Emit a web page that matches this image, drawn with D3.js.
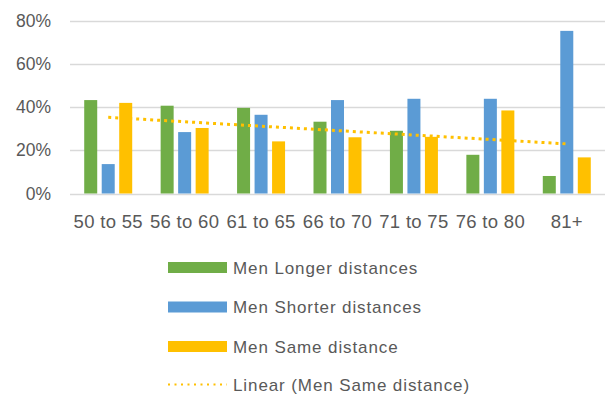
<!DOCTYPE html>
<html>
<head>
<meta charset="utf-8">
<script src="https://cdn.jsdelivr.net/npm/d3@7"></script>
<style>
  body { margin: 0; background: #fff; }
  text { font-family: "Liberation Sans", Arial, sans-serif; fill: #595959; }
</style>
</head>
<body>
<div id="canvas"></div>
<script>
"use strict";

// Canvas
let svgWidth = 605;
let svgHeight = 400;

// Data
let ageGroups = ["50 to 55", "56 to 60", "61 to 65", "66 to 70", "71 to 75", "76 to 80", "81+"];
let longerValues = [0.432, 0.406, 0.396, 0.332, 0.290, 0.179, 0.081];
let shorterValues = [0.136, 0.284, 0.364, 0.432, 0.438, 0.438, 0.752];
let sameValues = [0.419, 0.303, 0.241, 0.260, 0.262, 0.384, 0.167];
let seriesNames = ["Men Longer distances", "Men Shorter distances", "Men Same distance"];
let trendName = "Linear (Men Same distance)";
let yTicks = [0, 0.2, 0.4, 0.6, 0.8];

let seriesColors = ["#70AD47", "#5B9BD5", "#FFC000"];
let allSeries = [longerValues, shorterValues, sameValues];

let svg = d3.select("#canvas")
    .append("svg")
    .attr("width", svgWidth)
    .attr("height", svgHeight);

// Scales
let x0 = d3.scaleBand()
    .domain(ageGroups)
    .range([70, 605])
    .paddingInner(0.372)
    .paddingOuter(0.186);

let x1 = d3.scaleBand()
    .domain(d3.range(seriesNames.length))
    .range([0, x0.bandwidth()])
    .paddingInner(0.257);

let yScale = d3.scaleLinear()
    .domain([0, 0.8])
    .range([193.5, 20.5]);

// Gridlines
svg.selectAll("line.grid")
    .data(yTicks)
    .join("line")
    .attr("class", "grid")
    .attr("x1", 70)
    .attr("x2", 605)
    .attr("y1", d => Math.round(yScale(d)) + 0.5)
    .attr("y2", d => Math.round(yScale(d)) + 0.5)
    .attr("stroke", "#d9d9d9")
    .attr("stroke-width", 1.5);

// Y tick labels
svg.selectAll("text.ytick")
    .data(yTicks)
    .join("text")
    .attr("class", "ytick")
    .attr("x", 51)
    .attr("y", d => yScale(d) + 6)
    .attr("text-anchor", "end")
    .style("font-size", "17.5px")
    .text(d => d3.format(".0%")(d));

// Bars
let groups = svg.selectAll("g.group")
    .data(ageGroups)
    .join("g")
    .attr("class", "group")
    .attr("transform", d => `translate(${x0(d)},0)`);

groups.selectAll("rect")
    .data((d, i) => allSeries.map((s, k) => ({ k: k, v: s[i] })))
    .join("rect")
    .attr("x", d => x1(d.k))
    .attr("width", x1.bandwidth())
    .attr("y", d => yScale(d.v))
    .attr("height", d => yScale(0) - yScale(d.v))
    .attr("fill", d => seriesColors[d.k]);

// Linear trendline of "Men Same distance" (least squares, as Excel does)
let xs = d3.range(1, sameValues.length + 1);
let mx = d3.mean(xs);
let my = d3.mean(sameValues);
let slope = d3.sum(xs, (x, i) => (x - mx) * (sameValues[i] - my)) / d3.sum(xs, x => (x - mx) * (x - mx));
let intercept = my - slope * mx;
let trendPoints = [0, ageGroups.length - 1].map(i => ({
    x: x0(ageGroups[i]) + x0.bandwidth() / 2,
    y: yScale(intercept + slope * (i + 1))
}));

svg.append("path")
    .attr("d", d3.line().x(d => d.x).y(d => d.y)(trendPoints))
    .attr("fill", "none")
    .attr("stroke", "#FFC000")
    .attr("stroke-width", 3)
    .attr("stroke-dasharray", "3,4");

// X labels
svg.selectAll("text.xtick")
    .data(ageGroups)
    .join("text")
    .attr("class", "xtick")
    .attr("x", d => x0(d) + x0.bandwidth() / 2)
    .attr("y", 228)
    .attr("text-anchor", "middle")
    .style("font-size", "18.5px")
    .style("letter-spacing", "0.3px")
    .text(d => d);

// Legend
let legendX = 168;
let legendY = 267.5;
let legendStep = 39.5;

seriesNames.forEach((name, i) => {
    let cy = legendY + i * legendStep;
    svg.append("rect")
        .attr("x", legendX)
        .attr("y", cy - 5.5)
        .attr("width", 59)
        .attr("height", 11)
        .attr("fill", seriesColors[i]);
    svg.append("text")
        .attr("x", legendX + 65)
        .attr("y", cy + 6)
        .style("font-size", "17px")
        .style("letter-spacing", "0.9px")
        .text(name);
});

let trendY = legendY + 3 * legendStep - 1.5;
svg.append("line")
    .attr("x1", legendX)
    .attr("x2", legendX + 59)
    .attr("y1", trendY)
    .attr("y2", trendY)
    .attr("stroke", "#FFC000")
    .attr("stroke-width", 2)
    .attr("stroke-dasharray", "2,4.5");

svg.append("text")
    .attr("x", legendX + 65)
    .attr("y", trendY + 6)
    .style("font-size", "17px")
    .style("letter-spacing", "0.9px")
    .text(trendName);
</script>
</body>
</html>
